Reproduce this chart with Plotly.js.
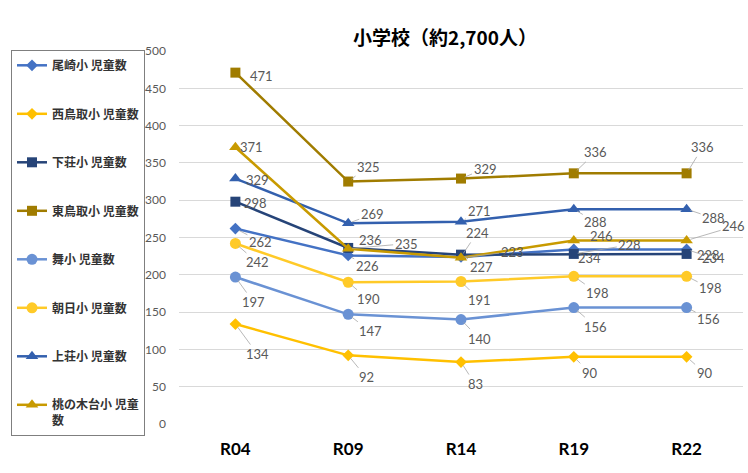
<!DOCTYPE html>
<html>
<head>
<meta charset="utf-8">
<script src="https://cdn.plot.ly/plotly-3.0.1.min.js"></script>
<style>
  html, body { margin: 0; padding: 0; background: #ffffff; }
  #chart { width: 748px; height: 473px; }
</style>
</head>
<body>
<div id="chart"></div>
<script>
// ---- data ----
const categories = ['R04', 'R09', 'R14', 'R19', 'R22'];
const seriesNames = [
  '尾崎小 児童数', '西鳥取小 児童数', '下荘小 児童数', '東鳥取小 児童数',
  '舞小 児童数', '朝日小 児童数', '上荘小 児童数', '桃の木台小 児童<br>数'
];
const ozaki       = [262, 226, 224, 234, 234];
const nishiTottori = [134, 92, 83, 90, 90];
const shimonosho  = [298, 236, 227, 228, 228];
const higashiTottori = [471, 325, 329, 336, 336];
const mai         = [197, 147, 140, 156, 156];
const asahi       = [242, 190, 191, 198, 198];
const kaminosho   = [329, 269, 271, 288, 288];
const momonokidai = [371, 235, 223, 246, 246];
const seriesValues = [ozaki, nishiTottori, shimonosho, higashiTottori, mai, asahi, kaminosho, momonokidai];

// ---- styles ----
const colors  = ['#4472C4', '#FFC000', '#264478', '#A07C00', '#6A92D4', '#FFCA28', '#3360AE', '#C89A00'];
const symbols = ['diamond', 'diamond', 'square', 'square', 'circle', 'circle', 'triangle-up', 'triangle-up'];
const msizes  = [9, 9, 10, 10, 11, 11, 11, 11];
// label offsets in pixels (dx right, dy down)
const labelOffsets = [
  [[25,13],[19,11],[16,-24],[16,9],[27,9]],
  [[22,30],[18,22],[14,22],[16,16],[18,16]],
  [[20,1],[22,-8],[20,12],[56,-9],[22,1]],
  [[26,3],[20,-15],[24,-10],[22,-21],[16,-26]],
  [[18,25],[22,17],[18,19],[22,19],[22,11]],
  [[22,19],[20,17],[18,18],[24,17],[24,12]],
  [[22,1],[24,-9],[18,-11],[22,13],[27,9]],
  [[16,0],[58,-5],[51,-6],[28,-4],[47,-14]]
];

const traces = seriesValues.map((vals, i) => ({
  type: 'scatter',
  mode: 'lines+markers',
  name: seriesNames[i],
  legendgroup: 'g' + i,
  x: categories,
  y: vals,
  line: { color: colors[i], width: 2.5 },
  marker: { color: colors[i], symbol: symbols[i], size: msizes[i] },
  hoverinfo: 'x+y+name'
}));

const annotations = [];
seriesValues.forEach((vals, i) => {
  vals.forEach((v, j) => {
    const [dx, dy] = labelOffsets[i][j];
    const leader = Math.abs(dy) > 8 || Math.abs(dx) > 30;
    annotations.push({
      x: categories[j], y: v, xref: 'x', yref: 'y',
      text: String(v),
      showarrow: true, arrowhead: 0, arrowwidth: 0.8,
      arrowcolor: leader ? '#A6A6A6' : 'rgba(0,0,0,0)',
      standoff: 4,
      ax: dx, ay: dy,
      font: { family: 'Lato, "Noto Sans CJK JP", sans-serif', size: 13, color: '#595959' }
    });
  });
});

const layout = {
  width: 748, height: 473,
  margin: { l: 179, r: 5, t: 51, b: 49 },
  paper_bgcolor: '#ffffff', plot_bgcolor: '#ffffff',
  title: {
    text: '<b>小学校（約2,700人）</b>',
    font: { family: '"Noto Sans CJK JP", sans-serif', size: 19, color: '#000000' },
    xref: 'container', yref: 'container',
    x: 445 / 748, xanchor: 'center', y: 1 - 38 / 473, yanchor: 'middle'
  },
  xaxis: {
    type: 'category', range: [-0.5, 4.5],
    showgrid: false, showline: false, zeroline: false, ticks: '',
    tickfont: { family: 'Lato, sans-serif', size: 17, color: '#000000', weight: 'bold' },
    ticklabelstandoff: 13
  },
  yaxis: {
    range: [0, 500], dtick: 50, tick0: 0,
    showgrid: true, gridcolor: '#D9D9D9', gridwidth: 1,
    zeroline: false, showline: false, ticks: '',
    tickfont: { family: 'Lato, sans-serif', size: 12, color: '#595959' },
    ticklabelstandoff: 12
  },
  showlegend: true,
  legend: {
    xref: 'container', yref: 'container',
    x: 11 / 748, xanchor: 'left', y: 1 - 50 / 473, yanchor: 'top',
    bordercolor: '#7F7F7F', borderwidth: 1, bgcolor: 'rgba(255,255,255,0)',
    font: { family: '"Noto Sans CJK JP", sans-serif', size: 12, color: '#333333', weight: 'bold' },
    tracegroupgap: 29.5, valign: 'top', itemwidth: 30, maxheight: 420
  },
  annotations: annotations
};

Plotly.newPlot('chart', traces, layout, { displayModeBar: false, staticPlot: true });
</script>
</body>
</html>
